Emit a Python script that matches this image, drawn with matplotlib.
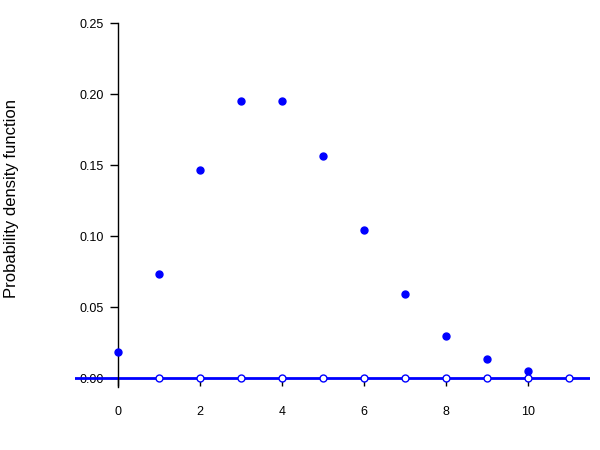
import matplotlib.pyplot as plt

plt.rcParams['font.family'] = ['Liberation Sans', 'DejaVu Sans']

# values
k_pts = [0, 1, 2, 3, 4, 5, 6, 7, 8, 9, 10]
pmf = [0.0183, 0.0733, 0.1465, 0.1954, 0.1954, 0.1563, 0.1042, 0.0595, 0.0298, 0.0132, 0.0053]
open_k = [1, 2, 3, 4, 5, 6, 7, 8, 9, 10, 11]
open_y = [0] * len(open_k)
xticks = [0, 2, 4, 6, 8, 10]
yticks = [0.00, 0.05, 0.10, 0.15, 0.20, 0.25]

fig = plt.figure(figsize=(6, 4.5), dpi=100)
ax = fig.add_axes([75/600, 63/450, 515/600, 364/450])

ax.axhline(0, color='#0000ff', lw=2, zorder=2)
ax.plot(k_pts, pmf, 'o', color='#0000ff', ms=5, zorder=3, clip_on=False)
ax.plot(open_k, open_y, 'o', mfc='white', mec='#0000ff', mew=1, ms=5, zorder=3, clip_on=False)

ax.set_xlim(-1.049, 11.51)
ax.set_ylim(-0.0063, 0.25)

for s in ['top', 'right']:
    ax.spines[s].set_visible(False)
ax.spines['left'].set_position(('data', 0))
ax.spines['left'].set_linewidth(1)
ax.spines['bottom'].set_position(('data', 0))
ax.spines['bottom'].set_visible(False)

ax.set_xticks(xticks)
ax.set_xticklabels([str(t) for t in xticks])
ax.set_yticks(yticks)
ax.set_yticklabels(['%.2f' % t for t in yticks])
ax.tick_params(axis='x', length=6, width=1, labelsize=9, pad=14)
ax.tick_params(axis='y', length=6, width=1, labelsize=9, pad=4)

fig.text(12/600, 1 - 199/450, 'Probability density function', rotation=90,
         ha='center', va='center', fontsize=12)

fig.savefig('out.png', dpi=100)
